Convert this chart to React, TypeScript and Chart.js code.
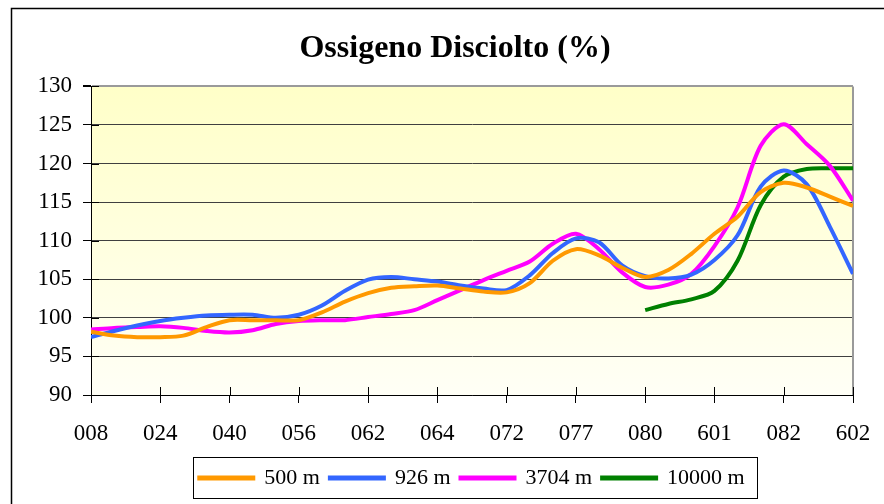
import React, { useEffect, useRef } from "react";
import { Chart, registerables } from "chart.js";

Chart.register(...registerables);

const stationLabels = ["008", "024", "040", "056", "062", "064", "072", "077", "080", "601", "082", "602"];
const pointsPerLabel = 3;

const series500 = [98.2, 97.7, 97.5, 97.5, 97.7, 98.8, 99.7, 99.7, 99.7, 99.7, 100.7, 102.1, 103.2, 103.9, 104.1, 104.2, 103.8, 103.4, 103.3, 104.5, 107.4, 108.9, 108.1, 106.5, 105.3, 106.2, 108.3, 110.9, 113.1, 116.3, 117.5, 116.9, 115.7, 114.5];
const series926 = [97.5, 98.3, 99.0, 99.6, 100.0, 100.3, 100.4, 100.4, 100.0, 100.4, 101.6, 103.5, 104.95, 105.3, 105.0, 104.7, 104.2, 103.8, 103.6, 105.5, 108.4, 110.3, 109.8, 106.8, 105.4, 105.1, 105.6, 107.5, 110.7, 117.0, 119.1, 117.3, 111.8, 105.7];
const series3704 = [98.5, 98.7, 98.8, 98.9, 98.7, 98.3, 98.1, 98.4, 99.2, 99.6, 99.7, 99.7, 100.1, 100.5, 101.0, 102.3, 103.6, 104.9, 106.1, 107.3, 109.6, 110.9, 108.9, 105.9, 104.0, 104.3, 105.7, 109.3, 114.3, 122.3, 125.1, 122.5, 119.7, 115.2];
const series10000 = [null, null, null, null, null, null, null, null, null, null, null, null, null, null, null, null, null, null, null, null, null, null, null, null, 101.0, 101.8, 102.4, 103.5, 107.4, 114.6, 118.3, 119.3, 119.4, 119.4];

const seriesNames = ["500 m", "926 m", "3704 m", "10000 m"];
const seriesColors = ["#FF9900", "#3366FF", "#FF00FF", "#008000"];
const allSeries = [series500, series926, series3704, series10000];

const yMin = 90;
const yMax = 130;
const yStep = 5;

const FONT = "'Liberation Serif', 'Times New Roman', serif";

const toPoints = (arr: (number | null)[]) =>
  arr.map((v, i) => (v === null ? null : { x: i, y: v })).filter((p) => p !== null) as { x: number; y: number }[];

const framePlugin = {
  id: "framePlugin",
  afterLayout(chart: any) {
    const ca = chart.chartArea;
    if (chart.legend) {
      chart.legend.left = ca.left;
      chart.legend.right = ca.right;
      chart.legend.width = ca.right - ca.left;
    }
    if (chart.titleBlock) {
      chart.titleBlock.left = 26;
      chart.titleBlock.right = 884;
      chart.titleBlock.width = 858;
    }
  },
  beforeDraw(chart: any) {
    const { ctx, chartArea } = chart;
    ctx.save();
    ctx.strokeStyle = "#000";
    ctx.lineWidth = 1.5;
    ctx.strokeRect(11.5, 8.5, 890, 520);
    const g = ctx.createLinearGradient(0, chartArea.top, 0, chartArea.bottom);
    g.addColorStop(0, "#FFFFC8");
    g.addColorStop(1, "#FFFFF6");
    ctx.fillStyle = g;
    ctx.fillRect(chartArea.left, chartArea.top, chartArea.right - chartArea.left, chartArea.bottom - chartArea.top);
    ctx.restore();
  },
  beforeDatasetsDraw(chart: any) {
    const { ctx, chartArea, scales } = chart;
    ctx.save();
    ctx.strokeStyle = "#9A9A9A";
    ctx.lineWidth = 2;
    ctx.beginPath();
    ctx.moveTo(chartArea.right, chartArea.top);
    ctx.lineTo(chartArea.right, chartArea.bottom);
    ctx.stroke();
    ctx.strokeStyle = "#000";
    ctx.lineWidth = 1;
    ctx.beginPath();
    scales.x.ticks.forEach((t: any) => {
      const x = Math.round(scales.x.getPixelForValue(t.value)) + 0.5;
      ctx.moveTo(x, chartArea.bottom - 8);
      ctx.lineTo(x, chartArea.bottom);
    });
    scales.y.ticks.forEach((t: any) => {
      const y = Math.round(scales.y.getPixelForValue(t.value)) + 0.5;
      ctx.moveTo(chartArea.left, y);
      ctx.lineTo(chartArea.left + 8, y);
    });
    ctx.stroke();
    ctx.restore();
  },
  afterDraw(chart: any) {
    const { ctx } = chart;
    const legend = chart.legend;
    if (!legend || !legend.legendHitBoxes || !legend.legendHitBoxes.length) return;
    const boxes = legend.legendHitBoxes;
    let l = Infinity, r = -Infinity;
    boxes.forEach((b: any) => {
      l = Math.min(l, b.left);
      r = Math.max(r, b.left + b.width);
    });
    ctx.save();
    ctx.strokeStyle = "#000";
    ctx.lineWidth = 1;
    ctx.strokeRect(Math.round(l - 6) + 0.5, Math.round(legend.top) + 0.5, Math.round(r - l + 19), Math.round(legend.height - 1));
    ctx.restore();
  },
};

export default function App() {
  const canvasRef = useRef<HTMLCanvasElement | null>(null);

  useEffect(() => {
    if (!canvasRef.current) return;
    const chart = new Chart(canvasRef.current, {
      type: "line",
      data: {
        datasets: allSeries.map((s, i) => ({
          label: seriesNames[i],
          data: toPoints(s),
          borderColor: seriesColors[i],
          backgroundColor: seriesColors[i],
          borderWidth: 4,
          pointRadius: 0,
          tension: 0.3,
          fill: false,
        })),
      },
      options: {
        animation: false,
        responsive: false,
        maintainAspectRatio: false,
        layout: { padding: { left: 0, right: 31, top: 0, bottom: 5 } },
        plugins: {
          title: {
            display: true,
            text: "Ossigeno Disciolto (%)",
            color: "#000",
            font: { family: FONT, size: 32, weight: "bold" },
            padding: { top: 30, bottom: 18 },
          },
          legend: {
            position: "bottom",
            labels: {
              color: "#000",
              font: { family: FONT, size: 22 },
              boxWidth: 54,
              boxHeight: 1,
              padding: 10,
            },
          },
          tooltip: { enabled: false },
        },
        scales: {
          x: {
            type: "linear",
            min: 0,
            max: (stationLabels.length - 1) * pointsPerLabel,
            afterFit: (scale: any) => {
              scale.height = 62;
              scale.paddingLeft = 0;
              scale.paddingRight = 0;
            },
            ticks: {
              stepSize: pointsPerLabel,
              autoSkip: false,
              maxRotation: 0,
              color: "#000",
              padding: 17,
              font: { family: FONT, size: 23 },
              callback: (v: any) => {
                const idx = Math.round(Number(v) / pointsPerLabel);
                return Number(v) % pointsPerLabel === 0 ? stationLabels[idx] ?? "" : "";
              },
            },
            grid: {
              display: true,
              drawOnChartArea: false,
              drawTicks: true,
              tickLength: 8,
              tickColor: "#000",
            },
            border: { display: true, color: "#000", width: 1 },
          },
          y: {
            min: yMin,
            max: yMax,
            afterFit: (scale: any) => {
              scale.width = 91;
            },
            ticks: {
              stepSize: yStep,
              color: "#000",
              padding: 11,
              font: { family: FONT, size: 23 },
            },
            grid: {
              color: (c: any) => (c.tick && c.tick.value === yMax ? "#9A9A9A" : "#404040"),
              lineWidth: (c: any) => (c.tick && c.tick.value === yMax ? 2 : 1),
              drawTicks: true,
              tickLength: 8,
              tickColor: "#000",
            },
            border: { display: true, color: "#000", width: 1 },
          },
        },
      },
      plugins: [framePlugin],
    } as any);
    return () => chart.destroy();
  }, []);

  return (
    <div style={{ position: "absolute", left: 0, top: 0, width: 884, height: 504, background: "#fff" }}>
      <canvas ref={canvasRef} width={884} height={504} style={{ display: "block" }} />
    </div>
  );
}
